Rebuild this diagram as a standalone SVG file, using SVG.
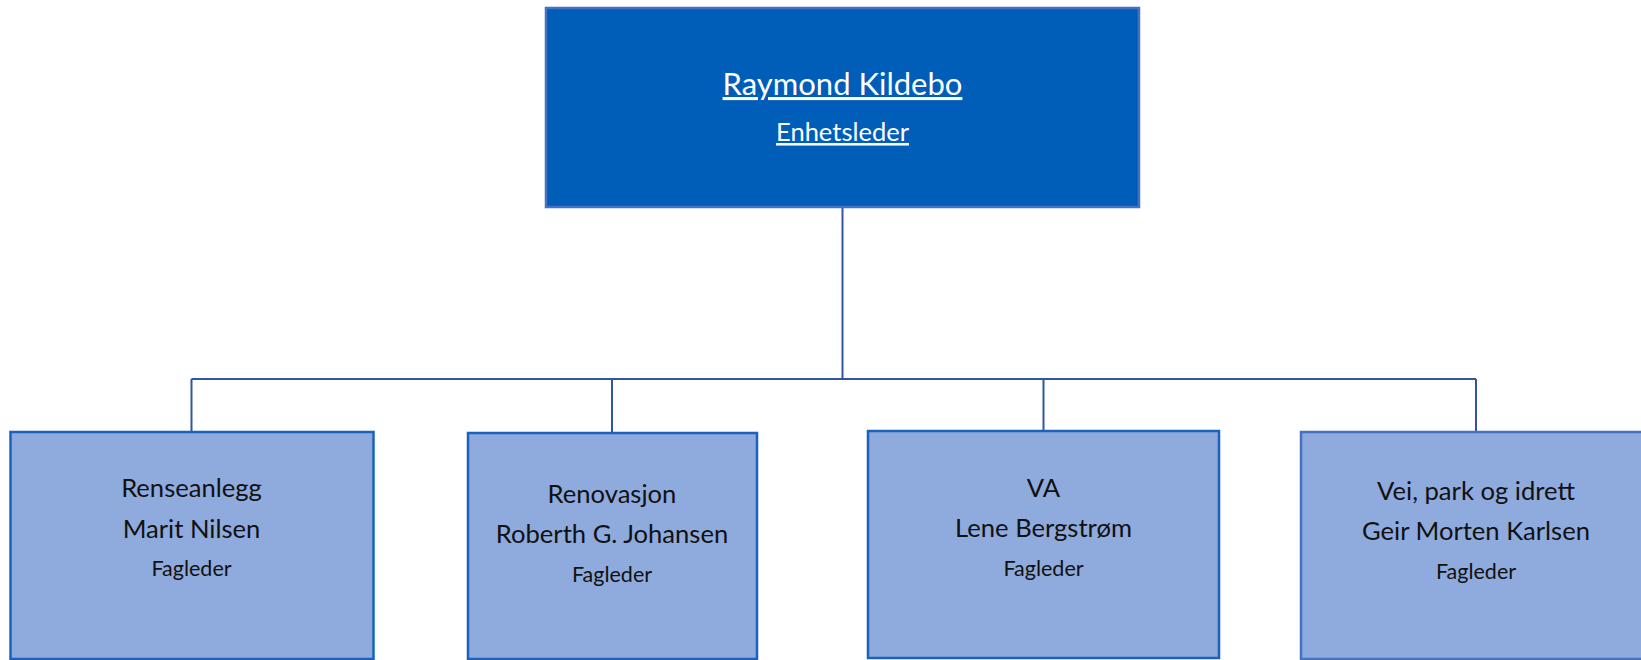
<svg xmlns="http://www.w3.org/2000/svg" width="1641" height="660" viewBox="0 0 1641 660">
<style>
.bg{fill:#ffffff}
.top{fill:#005EB8;stroke:#4472C4;stroke-width:2.5}
.sub{fill:#8FAADC;stroke:#1A62BE;stroke-width:2.5}
.sub2{fill:#8FAADC;stroke:#4472C4;stroke-width:2.5}
.conn{fill:none;stroke:#2F569F;stroke-width:2}
text{font-family:Lato,"Liberation Sans",sans-serif;text-anchor:middle}
.t1{font-size:31px;fill:#ffffff;text-decoration:underline}
.t2{font-size:25.5px;fill:#ffffff;text-decoration:underline}
.n1{font-size:25.6px;fill:#111111}
.n2{font-size:21.5px;fill:#111111}
</style>
<rect class="bg" x="0" y="0" width="1641" height="660"/>
<g id="connectors">
<path class="conn" d="M842.5,208 V379"/>
<path class="conn" d="M191.5,379 H1476"/>
<path class="conn" d="M191.5,379 V432"/>
<path class="conn" d="M612,379 V432"/>
<path class="conn" d="M1043.5,379 V431"/>
<path class="conn" d="M1476,379 V432"/>
</g>
<g id="node-raymond">
<rect class="top" x="546" y="8" width="593" height="199"/>
<text class="t1" x="842.5" y="95">Raymond Kildebo</text>
<text class="t2" x="842.5" y="141">Enhetsleder</text>
</g>
<g id="node-renseanlegg">
<rect class="sub" x="10.5" y="432" width="363" height="227"/>
<text class="n1" x="191.5" y="497">Renseanlegg</text>
<text class="n1" x="191.5" y="538">Marit Nilsen</text>
<text class="n2" x="191.5" y="576">Fagleder</text>
</g>
<g id="node-renovasjon">
<rect class="sub" x="468" y="433" width="289" height="226"/>
<text class="n1" x="612" y="503">Renovasjon</text>
<text class="n1" x="612" y="543">Roberth G. Johansen</text>
<text class="n2" x="612" y="582">Fagleder</text>
</g>
<g id="node-va">
<rect class="sub" x="868" y="431" width="351" height="227"/>
<text class="n1" x="1043.5" y="497">VA</text>
<text class="n1" x="1043.5" y="537">Lene Bergstrøm</text>
<text class="n2" x="1043.5" y="576">Fagleder</text>
</g>
<g id="node-vei">
<rect class="sub2" x="1301" y="432" width="350" height="227"/>
<text class="n1" x="1476" y="500">Vei, park og idrett</text>
<text class="n1" x="1476" y="540">Geir Morten Karlsen</text>
<text class="n2" x="1476" y="579">Fagleder</text>
</g>
</svg>
